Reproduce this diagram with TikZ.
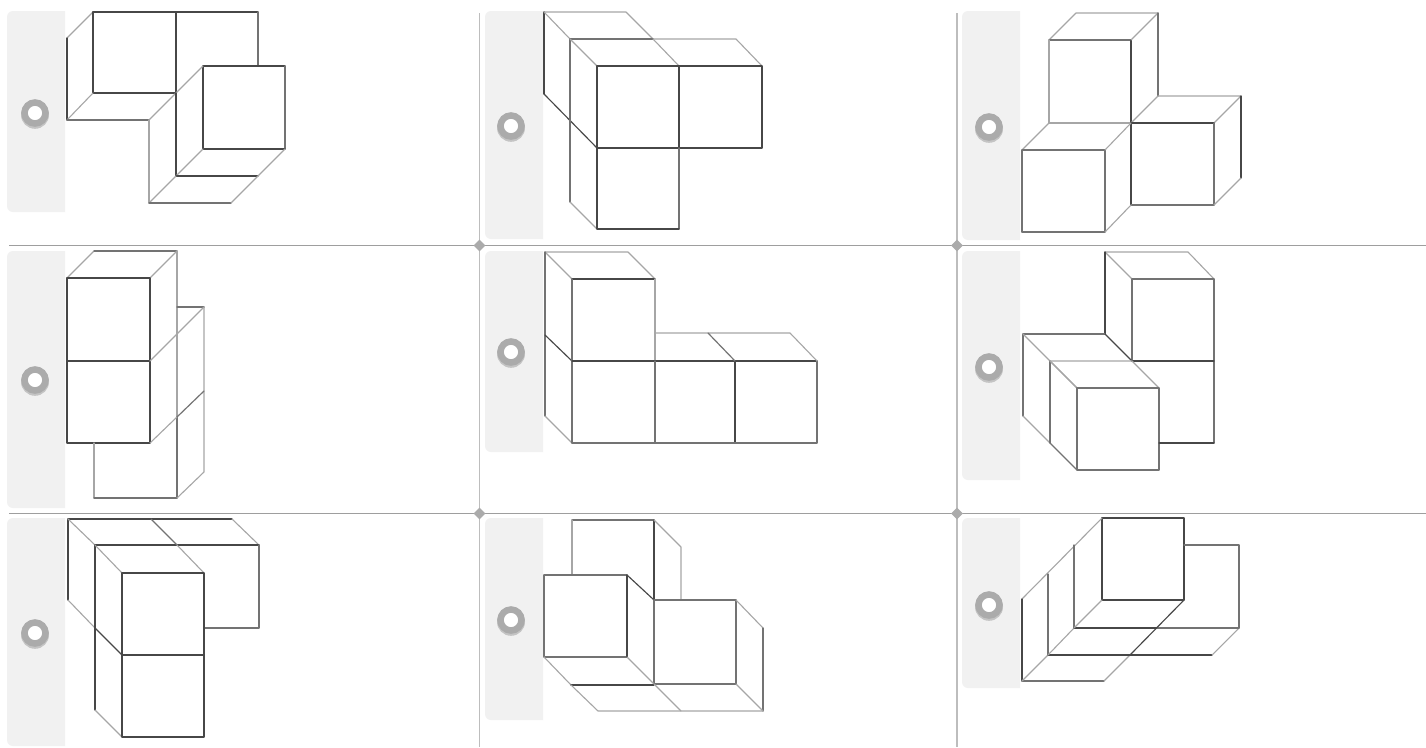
\documentclass[tikz,border=0pt]{standalone}
\usetikzlibrary{shapes.geometric}
\definecolor{panelc}{HTML}{F1F1F1}
\definecolor{ringc}{HTML}{ABABAB}
\definecolor{shadc}{HTML}{C4C4C4}
\definecolor{hruled}{HTML}{9E9E9E}
\definecolor{vruled}{HTML}{BDBDBD}
\tikzset{
  dk/.style={draw=black!72,line width=1.15pt,line join=round,line cap=round},
  md/.style={draw=black!55,line width=1.2pt,line join=round,line cap=round},
  lt/.style={draw=black!35,line width=1.1pt,line join=round,line cap=round},
  radio/.style={circle,draw=ringc,line width=6.5pt,fill=white,minimum size=21pt,inner sep=0pt},
  hrule/.style={draw=hruled,line width=1.1pt},
  vrule/.style={draw=vruled,line width=1.4pt},
  junction/.style={diamond,fill=ringc,minimum size=12pt,inner sep=0pt}
}
\newcommand{\panelbox}[3]{\fill[panelc] (#1+58,#2) [rounded corners=6pt] -- (#1,#2) -- (#1,#3) [sharp corners] -- (#1+58,#3) -- cycle;}
\newcommand{\radiobtn}[3]{\fill[shadc] (#2,#3+1.8) circle (14pt); \node[radio] (#1) at (#2,#3) {};}
\begin{document}
\begin{tikzpicture}[x=1pt,y=-1pt]
\useasboundingbox (0,0) rectangle (1426,747);
\fill[white] (0,0) rectangle (1426,747);
% panels
\panelbox{7}{11}{212}
\panelbox{485}{11}{239}
\panelbox{962}{11}{240}
\panelbox{7}{251}{508}
\panelbox{485}{251}{452}
\panelbox{962}{251}{480}
\panelbox{7}{518}{746}
\panelbox{485}{518}{720}
\panelbox{962}{518}{688}
% rules
\coordinate (ha) at (9,245.5); \coordinate (hb) at (1426,245.5);
\coordinate (ia) at (9,513.5); \coordinate (ib) at (1426,513.5);
\coordinate (va) at (479.5,13); \coordinate (vb) at (479.5,747);
\coordinate (wa) at (957,13); \coordinate (wb) at (957,747);
\draw[hrule] (ha) -- (hb);
\draw[hrule] (ia) -- (ib);
\draw[vrule] (va) -- (vb);
\draw[vrule] (wa) -- (wb);
\node[junction] (j1) at (479.5,245.5) {};
\node[junction] (j2) at (957,245.5) {};
\node[junction] (j3) at (479.5,513.5) {};
\node[junction] (j4) at (957,513.5) {};
% radios
\radiobtn{r1}{35}{113}
\radiobtn{r2}{511}{126}
\radiobtn{r3}{989}{127}
\radiobtn{r4}{35}{380}
\radiobtn{r5}{511}{352}
\radiobtn{r6}{989}{367}
\radiobtn{r7}{35}{633}
\radiobtn{r8}{511}{620}
\radiobtn{r9}{989}{605}
% figure 1
\draw[lt] (67,38)--(93,12);
\draw[dk] (67,38)--(67,120);
\draw[dk] (176,93)--(93,93)--(93,12)--(258,12);
\draw[dk] (176,12)--(176,93);
\draw[md] (258,12)--(258,66);
\draw[lt] (67,120)--(93,93);
\draw[md] (67,120)--(149,120);
\draw[lt] (149,120)--(176,93);
\draw[dk] (203,66)--(285,66);
\draw[md] (285,66)--(285,149);
\draw[dk] (285,149)--(203,149)--(203,66);
\draw[lt] (176,93)--(203,66);
\draw[dk] (176,93)--(176,176);
\draw[lt] (176,176)--(203,149);
\draw[dk] (176,176)--(258,176);
\draw[lt] (258,176)--(285,149);
\draw[lt] (149,120)--(149,203);
\draw[lt] (149,203)--(176,176);
\draw[md] (149,203)--(231,203);
\draw[lt] (231,203)--(258,176);
% figure 2
\draw[lt] (544,12)--(626,12)--(653,39);
\draw[dk] (544,12)--(544,94);
\draw[lt] (544,12)--(570,39);
\draw[dk] (544,94)--(597,148);
\draw[lt] (653,39)--(736,39)--(762,66);
\draw[md] (570,39)--(653,39);
\draw[md] (570,39)--(570,202);
\draw[lt] (570,202)--(597,229);
\draw[lt] (570,39)--(597,66);
\draw[lt] (653,39)--(679,66);
\draw[dk] (597,66)--(762,66)--(762,148)--(597,148)--cycle;
\draw[dk] (679,66)--(679,148);
\draw[md] (679,148)--(679,229);
\draw[dk] (597,148)--(597,229)--(679,229);
% figure 3
\draw[lt] (1049,40)--(1076,13)--(1158,13);
\draw[md] (1131,40)--(1049,40);
\draw[lt] (1049,40)--(1049,123)--(1131,123);
\draw[dk] (1131,40)--(1131,205);
\draw[lt] (1131,40)--(1158,13);
\draw[md] (1158,13)--(1158,96);
\draw[lt] (1158,96)--(1131,123);
\draw[lt] (1158,96)--(1241,96)--(1214,123);
\draw[dk] (1241,96)--(1241,178);
\draw[dk] (1131,123)--(1214,123);
\draw[md] (1214,123)--(1214,205);
\draw[md] (1214,205)--(1131,205);
\draw[lt] (1214,205)--(1241,178);
\draw[lt] (1049,123)--(1022,150);
\draw[md] (1022,150)--(1105,150);
\draw[md] (1105,150)--(1105,232)--(1022,232);
\draw[md] (1022,232)--(1022,150);
\draw[lt] (1105,150)--(1131,123);
\draw[lt] (1105,232)--(1131,205);
% figure 4
\draw[lt] (67,278)--(94,251);
\draw[md] (94,251)--(177,251);
\draw[lt] (177,251)--(150,278);
\draw[dk] (67,278)--(150,278)--(150,443)--(67,443)--cycle;
\draw[dk] (67,361)--(150,361);
\draw[lt] (177,251)--(177,417);
\draw[md] (177,417)--(177,498);
\draw[lt] (94,443)--(94,498);
\draw[md] (94,498)--(177,498);
\draw[lt] (177,498)--(204,472)--(204,307);
\draw[md] (177,307)--(204,307);
\draw[lt] (150,361)--(204,307);
\draw[lt] (150,443)--(177,417);
\draw[md] (177,417)--(204,391);
% figure 5
\draw[lt] (545,252)--(628,252)--(655,279);
\draw[lt] (545,252)--(572,279);
\draw[md] (545,252)--(545,416);
\draw[dk] (545,335)--(572,361);
\draw[lt] (545,416)--(572,443);
\draw[dk] (572,279)--(655,279);
\draw[md] (572,279)--(572,443);
\draw[lt] (655,279)--(655,361);
\draw[dk] (572,361)--(817,361);
\draw[md] (655,361)--(655,443);
\draw[dk] (735,361)--(735,443);
\draw[md] (572,443)--(817,443)--(817,361);
\draw[lt] (655,333)--(790,333)--(817,361);
\draw[md] (708,333)--(735,361);
% figure 6
\draw[lt] (1105,252)--(1188,252)--(1214,279);
\draw[lt] (1105,252)--(1132,279);
\draw[dk] (1105,252)--(1105,334);
\draw[md] (1132,279)--(1214,279)--(1214,443);
\draw[md] (1132,279)--(1132,361);
\draw[dk] (1132,361)--(1214,361);
\draw[md] (1023,334)--(1105,334);
\draw[dk] (1105,334)--(1132,361);
\draw[md] (1023,334)--(1023,416);
\draw[lt] (1023,334)--(1077,388);
\draw[lt] (1023,416)--(1050,443);
\draw[md] (1050,443)--(1077,470);
\draw[md] (1050,361)--(1050,443);
\draw[lt] (1050,361)--(1132,361)--(1159,388);
\draw[lt] (1050,361)--(1077,388);
\draw[md] (1077,388)--(1159,388)--(1159,470)--(1077,470)--cycle;
\draw[dk] (1214,443)--(1159,443);
% figure 7
\draw[dk] (68,519)--(232,519);
\draw[lt] (232,519)--(259,545);
\draw[dk] (68,519)--(68,600);
\draw[lt] (68,519)--(95,545);
\draw[lt] (68,600)--(95,628);
\draw[dk] (95,628)--(122,655);
\draw[dk] (95,545)--(259,545);
\draw[md] (259,545)--(259,628)--(204,628);
\draw[dk] (95,545)--(95,710);
\draw[lt] (95,710)--(122,737);
\draw[lt] (95,545)--(122,573);
\draw[md] (151,519)--(177,545);
\draw[lt] (177,545)--(204,573);
\draw[dk] (122,573)--(204,573)--(204,737)--(122,737)--cycle;
\draw[dk] (122,655)--(204,655);
% figure 8
\draw[md] (572,520)--(654,520);
\draw[lt] (572,520)--(572,575);
\draw[dk] (654,520)--(654,600);
\draw[lt] (654,520)--(681,547)--(681,600);
\draw[md] (544,575)--(627,575);
\draw[md] (544,575)--(544,657)--(627,657);
\draw[dk] (627,575)--(627,657);
\draw[dk] (627,575)--(654,600);
\draw[md] (654,600)--(654,684);
\draw[lt] (627,657)--(654,684);
\draw[md] (654,600)--(736,600);
\draw[md] (736,600)--(736,684)--(654,684);
\draw[lt] (736,600)--(763,628);
\draw[md] (763,628)--(763,711);
\draw[lt] (736,684)--(763,711);
\draw[lt] (544,657)--(571,685);
\draw[dk] (571,685)--(654,685);
\draw[lt] (571,685)--(598,711)--(763,711);
\draw[lt] (654,684)--(681,711);
% figure 9
\draw[dk] (1102,518)--(1184,518)--(1184,600)--(1102,600)--cycle;
\draw[lt] (1102,518)--(1022,599);
\draw[dk] (1022,599)--(1022,681);
\draw[md] (1022,681)--(1104,681);
\draw[lt] (1104,681)--(1130,655);
\draw[md] (1048,574)--(1048,655);
\draw[lt] (1048,655)--(1022,681);
\draw[dk] (1048,655)--(1212,655);
\draw[lt] (1212,655)--(1239,628);
\draw[md] (1074,545)--(1074,628);
\draw[lt] (1074,628)--(1048,655);
\draw[dk] (1074,628)--(1157,628);
\draw[md] (1157,628)--(1239,628);
\draw[lt] (1102,600)--(1074,628);
\draw[dk] (1184,600)--(1130,655);
\draw[md] (1184,545)--(1239,545)--(1239,628);
\end{tikzpicture}
\end{document}
